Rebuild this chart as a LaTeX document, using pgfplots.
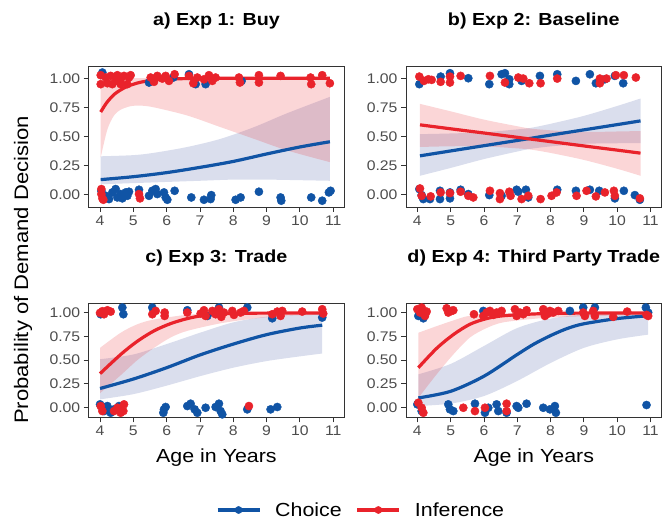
\documentclass[border=0pt]{standalone}
\usepackage{fontspec}
\setmainfont{Liberation Sans}[FakeStretch=1.13]
\usepackage{pgfplots}
\pgfplotsset{compat=1.18}
\usepgfplotslibrary{fillbetween}
\definecolor{cblue}{RGB}{16,84,165}
\definecolor{cred}{RGB}{233,35,43}
\definecolor{ribblue}{RGB}{60,80,160}
\definecolor{axc}{RGB}{51,51,51}
\definecolor{tkc}{RGB}{77,77,77}
\pgfplotsset{
  panel/.style={
    scale only axis, width=255.5bp,
    xmin=3.66, xmax=11.33, ymin=-0.105, ymax=1.105,
    xtick={4,5,6,7,8,9,10,11},
    ytick={0,0.25,0.5,0.75,1},
    yticklabels={0.00,0.25,0.50,0.75,1.00},
    axis line style={draw=axc, line width=0.9bp},
    tick style={draw=axc, line width=0.9bp},
    major tick length=5bp, tick align=outside,
    xtick pos=lower, ytick pos=left,
    /pgf/number format/assume math mode=true,
    tick label style={font=\fontsize{14}{16}\selectfont, text=tkc},
    title style={font=\bfseries\fontsize{17.5}{20}\selectfont, at={(0.5,1)}, anchor=base, yshift=35bp},
    xlabel style={font=\fontsize{19}{22}\selectfont, at={(0.5,0)}, anchor=base, yshift=-45.7bp},
  },
  pts/.style={only marks, mark=*, mark size=4.1bp, color=#1, mark options={solid, fill=#1, draw=#1}},
  crv/.style={draw=#1, line width=3.2bp, smooth, no marks},
  rib/.style={fill=#1, fill opacity=0.19, draw=none},
}
\begin{document}
\begin{tikzpicture}
\node[rotate=90, font=\fontsize{19.6}{22}\selectfont] at (23bp,249bp) {Probability of Demand Decision};

% ---------- a) ----------
\begin{axis}[panel, at={(88.7bp,312bp)}, anchor=south west, height=141bp, title={a) Exp 1: Buy}]
\addplot[pts=cblue] coordinates {
(4.07,1.049)(5.47,0.963)(6.20,1.006)(6.67,1.034)(6.87,0.949)(7.17,0.949)(8.25,0.977)
(4.04,0.034)(4.17,-0.009)(4.27,-0.037)(4.37,0.02)(4.47,0.049)(4.52,-0.023)(4.62,0.006)
(4.67,-0.031)(4.77,0.02)(4.82,-0.009)(4.87,0.026)(5.17,0.043)(5.47,-0.009)(5.57,0.034)
(5.67,0.049)(5.72,0.006)(5.92,0.02)(5.97,-0.023)(6.02,-0.043)(6.24,0.034)(6.74,-0.023)
(7.12,-0.043)(7.32,-0.037)(7.34,-0.003)(8.07,-0.043)(8.22,-0.023)(8.77,0.026)(9.42,-0.023)
(9.44,-0.051)(10.34,-0.023)(10.67,-0.051)(10.87,0.02)(10.92,0.034)};
\addplot[pts=cred] coordinates {
(4.02,1.026)(4.02,0.949)(4.17,1.006)(4.22,0.957)(4.32,1.02)(4.37,0.949)(4.47,0.977)(4.52,1.026)
(4.62,0.991)(4.62,0.949)(4.72,1.02)(4.82,0.949)(4.87,1.006)(4.92,1.026)(5.52,1.006)(5.62,0.969)
(5.72,1.02)(5.87,0.997)(5.97,1.02)(6.07,0.977)(6.24,1.034)(6.67,1.02)(6.80,0.957)(6.92,1.006)
(7.12,0.991)(7.27,1.026)(7.37,0.977)(7.47,1.006)(8.17,1.006)(8.20,0.963)(8.77,1.026)(8.77,0.963)
(9.42,1.02)(10.32,1.006)(10.34,0.949)(10.67,1.026)(10.90,0.957)
(4.04,0.049)(4.04,0.006)(4.07,-0.031)(4.10,-0.043)(5.17,0.006)(5.20,-0.031)};
\addplot[name path=au, draw=none, smooth] coordinates {(4.02,0.33)(5,0.34)(5.62,0.36)(6.62,0.41)(7.62,0.48)(8.62,0.58)(9.62,0.70)(10.9,0.84)};
\addplot[name path=al, draw=none, smooth] coordinates {(4.02,0.09)(5,0.10)(6,0.11)(7,0.12)(8,0.13)(9,0.13)(10,0.125)(10.9,0.12)};
\addplot[rib=ribblue] fill between[of=au and al];
\addplot[crv=cblue] coordinates {(4.02,0.13)(5,0.155)(6,0.19)(7,0.235)(8,0.286)(9,0.35)(10,0.41)(10.9,0.455)};
\addplot[name path=ru, draw=none, smooth] coordinates {(4.02,0.99)(4.5,0.998)(5,1.0)(10.9,1.0)};
\addplot[name path=rl, draw=none, smooth] coordinates {(4.02,0.32)(4.22,0.56)(4.42,0.68)(4.62,0.73)(4.92,0.76)(5.22,0.765)(5.62,0.75)(6.62,0.68)(7.62,0.58)(8.62,0.48)(9.62,0.38)(10.9,0.28)};
\addplot[rib=cred] fill between[of=ru and rl];
\addplot[crv=cred] coordinates {(4.02,0.71)(4.2,0.79)(4.42,0.86)(4.62,0.90)(4.82,0.93)(5.02,0.95)(5.22,0.966)(5.62,0.985)(6,0.993)(7,0.999)(8,1.0)(10.9,1.0)};
\end{axis}

% ---------- b) ----------
\begin{axis}[panel, at={(406bp,312bp)}, anchor=south west, height=141bp, title={b) Exp 2: Baseline}]
\addplot[pts=cblue] coordinates {
(4.06,0.949)(4.70,1.014)(4.98,1.043)(5.53,1.0)(6.16,0.949)(6.53,1.034)(6.63,1.043)(6.76,0.991)
(6.76,0.949)(7.13,0.977)(7.68,1.02)(8.20,1.034)(8.76,0.977)(9.18,1.034)(9.36,0.957)(9.63,0.991)
(9.93,1.02)(10.18,0.957)
(4.06,0.049)(4.13,-0.003)(4.18,-0.037)(4.38,-0.037)(4.68,0.034)(4.68,-0.037)(4.98,0.02)(4.98,-0.031)
(5.30,0.043)(5.53,0.006)(6.16,-0.003)(6.53,-0.009)(6.98,0.043)(7.03,0.026)(7.26,0.043)(7.33,-0.023)
(8.20,0.043)(8.76,0.034)(9.18,0.043)(9.46,0.034)(9.93,-0.031)(10.20,0.034)(10.53,-0.003)(10.68,-0.043)};
\addplot[pts=cred] coordinates {
(4.06,1.014)(4.20,0.977)(4.33,0.991)(4.43,0.986)(4.70,0.969)(4.98,1.014)(4.98,0.963)(5.30,1.02)
(6.18,1.02)(6.63,0.963)(7.03,1.006)(7.18,0.997)(7.36,0.957)(7.70,0.957)(8.20,0.997)(9.48,0.997)
(9.48,0.957)(9.68,0.997)(9.96,1.026)(10.20,1.026)(10.56,1.006)
(4.08,0.054)(4.13,-0.009)(4.40,-0.014)(4.70,0.02)(4.98,0.014)(5.30,0.026)(5.53,-0.009)(5.68,-0.023)
(6.18,0.034)(6.48,0.014)(6.48,-0.037)(6.76,0.026)(6.80,-0.009)(7.13,-0.037)(7.33,-0.009)(7.70,-0.037)
(8.03,-0.009)(8.18,0.02)(8.78,-0.009)(9.08,0.034)(9.36,-0.014)(9.63,0.02)(9.90,0.034)(9.93,-0.009)(10.68,-0.031)};
\addplot[name path=bu, draw=none, smooth] coordinates {(4.08,0.52)(5,0.526)(6,0.536)(7,0.561)(7.4,0.574)(8,0.609)(9,0.677)(10,0.762)(10.7,0.826)};
\addplot[name path=bl, draw=none, smooth] coordinates {(4.08,0.163)(5,0.23)(6,0.306)(7,0.371)(7.4,0.394)(8,0.415)(9,0.437)(10,0.442)(10.7,0.444)};
\addplot[rib=ribblue] fill between[of=bu and bl];
\addplot[crv=cblue] coordinates {(4.08,0.334)(5,0.376)(6,0.421)(7,0.466)(7.4,0.484)(8,0.512)(9,0.557)(10,0.602)(10.7,0.634)};
\addplot[name path=cu, draw=none, smooth] coordinates {(4.08,0.78)(5,0.716)(6,0.645)(7,0.588)(7.4,0.568)(8,0.553)(9,0.539)(10,0.543)(10.7,0.547)};
\addplot[name path=cl, draw=none, smooth] coordinates {(4.08,0.41)(5,0.416)(6,0.415)(7,0.398)(7.4,0.388)(8,0.359)(9,0.299)(10,0.223)(10.7,0.163)};
\addplot[rib=cred] fill between[of=cu and cl];
\addplot[crv=cred] coordinates {(4.08,0.60)(5,0.566)(6,0.53)(7,0.493)(7.4,0.478)(8,0.456)(9,0.419)(10,0.383)(10.7,0.357)};
\end{axis}

% ---------- c) ----------
\begin{axis}[panel, at={(88.7bp,101.7bp)}, anchor=south west, height=114.3bp, title={c) Exp 3: Trade}, xlabel={Age in Years},
  legend columns=2, legend cell align=left,
  legend style={draw=none, fill=none, at={(1.066,-0.811)}, anchor=center, font=\fontsize{19}{22}\selectfont,
    /tikz/every odd column/.append style={column sep=12bp},
    /tikz/every even column/.append style={column sep=12bp}},
  legend image code/.code={\draw[mark repeat=2,mark phase=2] plot coordinates {(0bp,0bp) (21bp,0bp) (42bp,0bp)};}]
\addlegendimage{cblue, line width=3.2bp, mark=*, mark size=3.6bp, mark options={solid, fill=cblue, draw=cblue, line width=0.4pt}}
\addlegendentry{Choice}
\addlegendimage{cred, line width=3.2bp, mark=*, mark size=3.6bp, mark options={solid, fill=cred, draw=cred, line width=0.4pt}}
\addlegendentry{Inference}
\addplot[pts=cblue] coordinates {
(4.02,0.986)(4.67,1.057)(4.70,0.986)(5.57,1.057)(6.62,1.028)(7.22,0.968)(7.57,1.057)(8.42,1.057)(9.17,0.943)(10.67,0.951)
(4.0,0.032)(4.07,-0.004)(4.12,-0.039)(4.22,0.014)(4.32,-0.057)(4.42,-0.021)(4.57,0.014)(5.92,-0.021)
(5.90,-0.057)(5.97,0.004)(6.62,0.014)(6.72,0.039)(6.84,-0.021)(6.92,-0.057)(7.17,-0.004)(7.47,0.004)
(7.57,0.039)(7.62,-0.039)(7.67,-0.074)(8.42,-0.021)(9.12,-0.021)(9.32,0.004)};
\addplot[pts=cred] coordinates {
(4.0,1.0)(4.07,1.018)(4.12,0.986)(4.22,1.028)(4.32,1.014)(5.57,0.986)(5.67,1.021)(5.94,1.004)(5.94,0.968)
(6.62,1.004)(7.02,0.993)(7.12,1.028)(7.17,0.968)(7.37,1.021)(7.47,0.986)(7.57,1.039)(7.64,0.958)(7.72,1.004)
(7.97,1.021)(8.02,0.979)(8.22,1.004)(8.32,1.021)(9.17,0.986)(9.32,1.014)(9.42,0.968)(9.47,1.021)(10.07,1.014)
(10.67,1.039)(10.70,0.993)
(4.02,0.014)(4.07,-0.039)(4.42,-0.039)(4.52,-0.004)(4.62,-0.057)(4.72,0.032)(4.70,-0.039)(8.47,0.014)};
\addplot[name path=du, draw=none, smooth] coordinates {(4.0,0.51)(5,0.56)(6,0.67)(7,0.79)(8,0.90)(9,0.96)(10,0.98)(10.67,0.99)};
\addplot[name path=dl, draw=none, smooth] coordinates {(4.0,0.085)(5,0.14)(6,0.23)(7,0.33)(8,0.42)(9,0.49)(10,0.54)(10.67,0.57)};
\addplot[rib=ribblue] fill between[of=du and dl];
\addplot[crv=cblue] coordinates {(4.0,0.20)(5,0.30)(6,0.42)(7,0.555)(8,0.67)(9,0.77)(10,0.84)(10.67,0.87)};
\addplot[name path=eu, draw=none, smooth] coordinates {(4.0,0.63)(4.62,0.79)(5.12,0.88)(5.62,0.93)(6.62,0.98)(7.5,0.995)(10.67,1.0)};
\addplot[name path=el, draw=none, smooth] coordinates {(4.0,0.15)(4.62,0.34)(5.12,0.50)(5.62,0.63)(6.12,0.74)(6.62,0.81)(7.62,0.89)(8.62,0.94)(9.62,0.97)(10.67,0.98)};
\addplot[rib=cred] fill between[of=eu and el];
\addplot[crv=cred] coordinates {(4.0,0.357)(4.62,0.56)(5.12,0.70)(5.62,0.81)(6.12,0.887)(6.62,0.94)(7.12,0.975)(7.62,0.99)(8.5,0.997)(10.67,1.0)};
\end{axis}

% ---------- d) ----------
\begin{axis}[panel, at={(406bp,101.7bp)}, anchor=south west, height=114.3bp, title={d) Exp 4: Third Party Trade}, xlabel={Age in Years}]
\addplot[pts=cblue] coordinates {
(4.03,0.968)(4.18,0.943)(5.98,1.021)(8.58,1.021)(8.98,1.057)(9.33,1.057)(10.86,1.057)(10.93,1.004)
(4.0,0.032)(4.13,-0.039)(4.93,0.032)(4.98,-0.021)(5.08,-0.039)(5.73,0.039)(6.03,-0.057)(6.13,-0.004)
(6.38,0.032)(6.43,-0.039)(6.68,-0.057)(6.98,0.014)(7.03,-0.004)(7.28,0.039)(7.78,-0.004)(7.98,-0.021)
(8.13,0.014)(8.16,-0.057)(10.88,0.025)};
\addplot[pts=cred] coordinates {
(4.0,1.039)(4.08,1.004)(4.13,1.057)(4.18,1.021)(4.23,0.968)(4.28,1.014)(4.88,1.049)(4.93,1.004)(5.03,1.021)
(5.08,1.028)(5.70,0.986)(5.98,0.968)(6.08,1.004)(6.18,1.021)(6.28,0.979)(6.38,1.004)(6.53,1.021)(6.93,1.039)
(6.98,0.968)(7.08,1.004)(7.18,0.986)(7.28,1.028)(7.78,1.039)(7.83,0.968)(7.93,0.993)(7.98,1.021)(8.08,1.004)
(8.23,1.021)(8.98,1.004)(9.03,0.968)(9.28,1.021)(9.33,0.968)(9.88,0.958)(10.30,1.014)(10.88,0.979)(10.93,0.968)
(4.03,0.049)(4.13,-0.004)(4.18,-0.057)(5.38,-0.004)(5.73,-0.039)(6.03,-0.004)(6.68,0.039)(6.68,-0.039)};
\addplot[name path=fu, draw=none, smooth] coordinates {(4.03,0.35)(5,0.46)(6,0.65)(7,0.84)(8,0.94)(9,0.98)(10.93,1.0)};
\addplot[name path=fl, draw=none, smooth] coordinates {(4.03,0.015)(5,0.04)(6,0.12)(7,0.28)(8,0.47)(9,0.63)(10,0.72)(10.93,0.77)};
\addplot[rib=ribblue] fill between[of=fu and fl];
\addplot[crv=cblue] coordinates {(4.03,0.10)(5,0.17)(6,0.33)(7,0.56)(7.5,0.67)(8,0.76)(8.5,0.835)(9,0.885)(10,0.94)(10.93,0.97)};
\addplot[name path=gu, draw=none, smooth] coordinates {(4.03,0.79)(4.58,0.86)(5.08,0.92)(5.58,0.97)(6.5,0.99)(7.5,1.0)(10.93,1.0)};
\addplot[name path=gl, draw=none, smooth] coordinates {(4.03,0.10)(4.58,0.35)(5.08,0.56)(5.58,0.74)(6.08,0.84)(6.58,0.90)(7.58,0.94)(8.58,0.96)(10.93,0.98)};
\addplot[rib=cred] fill between[of=gu and gl];
\addplot[crv=cred] coordinates {(4.03,0.42)(4.58,0.625)(5.08,0.77)(5.58,0.88)(6.08,0.94)(6.58,0.97)(7.58,0.99)(8.5,0.997)(10.93,1.0)};
\end{axis}
\pgfresetboundingbox
\useasboundingbox (0,0) rectangle (665bp,519bp);
\end{tikzpicture}
\end{document}
